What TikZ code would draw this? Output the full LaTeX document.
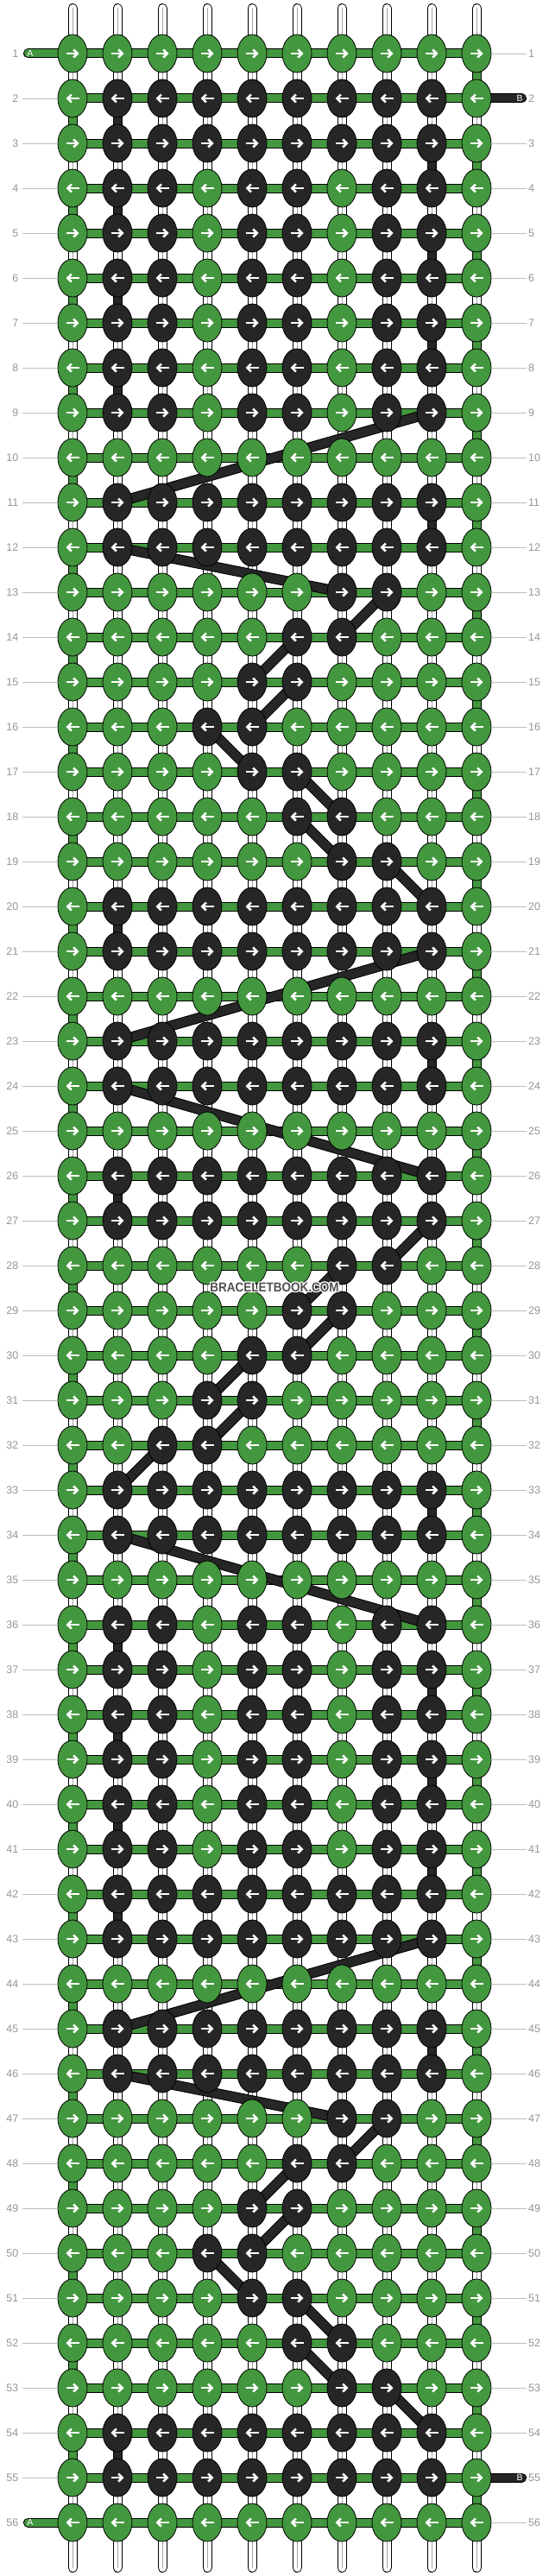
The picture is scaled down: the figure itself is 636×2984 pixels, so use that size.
\documentclass[tikz,border=0pt]{standalone}
\usepackage{fontspec}
\setmainfont{Liberation Sans}
\usepackage{xcolor}
\usepackage{graphicx}
\usetikzlibrary{shapes.geometric,arrows.meta}

\definecolor{knotgreen}{RGB}{67,151,62}
\definecolor{knotdark}{RGB}{38,38,38}
\definecolor{numgray}{RGB}{150,150,150}
\definecolor{rulegray}{RGB}{190,190,190}
\definecolor{markgray}{RGB}{80,80,80}

\tikzset{
  knotg/.style={ellipse, draw=black, line width=0.8pt, fill=knotgreen,
    minimum width=34pt, minimum height=44pt, inner sep=0pt},
  knotd/.style={knotg, fill=knotdark},
  knotarrow/.style={white, line width=2.6pt, -{Straight Barb[length=4.5pt,width=9pt]}},
  basestring/.style={line width=1pt, double=white, double distance=9pt, line cap=round},
  basecore/.style={draw=black!35, line width=0.6pt},
  rowbar/.style={line width=1pt, double=knotgreen, double distance=9pt},
  turnA/.style={rowbar},
  turnB/.style={line width=1pt, double=knotdark, double distance=9pt},
  floatB/.style={line width=1pt, double=knotdark, double distance=10pt},
  tailtag/.style={text=white, inner sep=0pt, font=\fontsize{10.5}{10.5}\selectfont},
  rowlabel/.style={text=numgray, inner sep=0pt, font=\fontsize{12.5}{12.5}\selectfont},
  labelline/.style={draw=rulegray, line width=0.9pt}
}

\begin{document}
\begin{tikzpicture}[x=1pt,y=-1pt]
\fill[white] (0,0) rectangle (636,2984);
\useasboundingbox (0,0) rectangle (636,2984);

% grid of knot positions
\foreach \r in {1,...,56}
  \foreach \c in {1,...,10}
    \coordinate (p-\r-\c) at ({84+52*(\c-1)},{62+52*(\r-1)});

% base strings
\foreach \c in {1,...,10} {
  \coordinate (top-\c) at ({84+52*(\c-1)},9.5);
  \coordinate (bot-\c) at ({84+52*(\c-1)},2974.5);
  \draw[basestring] (top-\c) -- (bot-\c);
  \draw[basecore] (top-\c) -- (bot-\c);
}

% row strings
\foreach \r in {1,...,56}
  \draw[rowbar] (p-\r-1) -- (p-\r-10);

% loose ends A and B
\coordinate (endA-1) at (32.5,62);
\coordinate (endA-56) at (32.5,2922);
\coordinate (endB-2) at (604.5,114);
\coordinate (endB-55) at (604.5,2870);
\draw[rowbar, line cap=round] (endA-1) -- (p-1-1);
\draw[rowbar, line cap=round] (endA-56) -- (p-56-1);
\draw[turnB, line cap=round] (endB-2) -- (p-2-10);
\draw[turnB, line cap=round] (endB-55) -- (p-55-10);
\node[tailtag] (tagA-1) at (35,62) {A};
\node[tailtag] (tagA-56) at (35,2922) {A};
\node[tailtag] (tagB-2) at (602,114) {B};
\node[tailtag] (tagB-55) at (602,2870) {B};

% turns at the edges
\foreach \r in {2,4,...,54} {
  \pgfmathtruncatemacro\s{\r+1}
  \draw[turnA] (p-\r-1) -- (p-\s-1);
}
\foreach \r in {1,3,...,55} {
  \pgfmathtruncatemacro\s{\r+1}
  \draw[turnA] (p-\r-10) -- (p-\s-10);
}
\foreach \r in {2,4,6,8,20,26,36,38,40,42,54} {
  \pgfmathtruncatemacro\s{\r+1}
  \draw[turnB] (p-\r-2) -- (p-\s-2);
}
\foreach \r in {3,5,7,11,23,33,37,39,41,45} {
  \pgfmathtruncatemacro\s{\r+1}
  \draw[turnB] (p-\r-9) -- (p-\s-9);
}

% B string floating between knots
\foreach \a/\b/\u/\v in {9/9/11/2, 12/2/13/7, 13/8/14/7, 14/6/15/5, 15/6/16/5,
    16/4/17/5, 17/6/18/7, 18/6/19/7, 19/8/20/9, 21/9/23/2, 24/2/26/9,
    27/9/28/8, 28/7/29/6, 29/7/30/6, 30/5/31/4, 31/5/32/4, 32/3/33/2,
    34/2/36/9, 43/9/45/2, 46/2/47/7, 47/8/48/7, 48/6/49/5, 49/6/50/5,
    50/4/51/5, 51/6/52/7, 52/6/53/7, 53/8/54/9}
  \draw[floatB] (p-\a-\b) -- (p-\u-\v);

% knots
\foreach \r/\pat in {
   1/{g,g,g,g,g,g,g,g,g,g},  2/{g,d,d,d,d,d,d,d,d,g},  3/{g,d,d,d,d,d,d,d,d,g},
   4/{g,d,d,g,d,d,g,d,d,g},  5/{g,d,d,g,d,d,g,d,d,g},  6/{g,d,d,g,d,d,g,d,d,g},
   7/{g,d,d,g,d,d,g,d,d,g},  8/{g,d,d,g,d,d,g,d,d,g},  9/{g,d,d,g,d,d,g,d,d,g},
  10/{g,g,g,g,g,g,g,g,g,g}, 11/{g,d,d,d,d,d,d,d,d,g}, 12/{g,d,d,d,d,d,d,d,d,g},
  13/{g,g,g,g,g,g,d,d,g,g}, 14/{g,g,g,g,g,d,d,g,g,g}, 15/{g,g,g,g,d,d,g,g,g,g},
  16/{g,g,g,d,d,g,g,g,g,g}, 17/{g,g,g,g,d,d,g,g,g,g}, 18/{g,g,g,g,g,d,d,g,g,g},
  19/{g,g,g,g,g,g,d,d,g,g}, 20/{g,d,d,d,d,d,d,d,d,g}, 21/{g,d,d,d,d,d,d,d,d,g},
  22/{g,g,g,g,g,g,g,g,g,g}, 23/{g,d,d,d,d,d,d,d,d,g}, 24/{g,d,d,d,d,d,d,d,d,g},
  25/{g,g,g,g,g,g,g,g,g,g}, 26/{g,d,d,d,d,d,d,d,d,g}, 27/{g,d,d,d,d,d,d,d,d,g},
  28/{g,g,g,g,g,g,d,d,g,g}, 29/{g,g,g,g,g,d,d,g,g,g}, 30/{g,g,g,g,d,d,g,g,g,g},
  31/{g,g,g,d,d,g,g,g,g,g}, 32/{g,g,d,d,g,g,g,g,g,g}, 33/{g,d,d,d,d,d,d,d,d,g},
  34/{g,d,d,d,d,d,d,d,d,g}, 35/{g,g,g,g,g,g,g,g,g,g}, 36/{g,d,d,g,d,d,g,d,d,g},
  37/{g,d,d,g,d,d,g,d,d,g}, 38/{g,d,d,g,d,d,g,d,d,g}, 39/{g,d,d,g,d,d,g,d,d,g},
  40/{g,d,d,g,d,d,g,d,d,g}, 41/{g,d,d,g,d,d,g,d,d,g}, 42/{g,d,d,d,d,d,d,d,d,g},
  43/{g,d,d,d,d,d,d,d,d,g}, 44/{g,g,g,g,g,g,g,g,g,g}, 45/{g,d,d,d,d,d,d,d,d,g},
  46/{g,d,d,d,d,d,d,d,d,g}, 47/{g,g,g,g,g,g,d,d,g,g}, 48/{g,g,g,g,g,d,d,g,g,g},
  49/{g,g,g,g,d,d,g,g,g,g}, 50/{g,g,g,d,d,g,g,g,g,g}, 51/{g,g,g,g,d,d,g,g,g,g},
  52/{g,g,g,g,g,d,d,g,g,g}, 53/{g,g,g,g,g,g,d,d,g,g}, 54/{g,d,d,d,d,d,d,d,d,g},
  55/{g,d,d,d,d,d,d,d,d,g}, 56/{g,g,g,g,g,g,g,g,g,g}}
  \foreach \k [count=\c] in \pat {
    \node[knot\k] (k-\r-\c) at (p-\r-\c) {};
    \ifodd\r
      \draw[knotarrow] ([xshift=-7.5pt]k-\r-\c.center) -- ([xshift=7.5pt]k-\r-\c.center);
    \else
      \draw[knotarrow] ([xshift=7.5pt]k-\r-\c.center) -- ([xshift=-7.5pt]k-\r-\c.center);
    \fi
  };

% row numbers
\foreach \r in {1,...,56} {
  \node[rowlabel, anchor=east] (numL-\r) at (21.5,{62+52*(\r-1)}) {\r};
  \node[rowlabel, anchor=west] (numR-\r) at (612,{62+52*(\r-1)}) {\r};
  \ifnum\r=1 \else\ifnum\r=56 \else
    \draw[labelline, shorten <=4.5pt] (numL-\r) -- (k-\r-1);
  \fi\fi
  \ifnum\r=2 \else\ifnum\r=55 \else
    \draw[labelline, shorten >=2pt] (k-\r-10) -- (numR-\r);
  \fi\fi
}

% watermark
\foreach \dx/\dy in {-1.3/0, 1.3/0, 0/-1.3, 0/1.3, -1/-1, 1/1, -1/1, 1/-1}
  \node[text=white, font=\bfseries\fontsize{15}{15}\selectfont]
    at ({318+\dx},{1491.5+\dy}) {\scalebox{0.9}[1]{BRACELETBOOK.COM}};
\node[text=markgray, font=\bfseries\fontsize{15}{15}\selectfont]
  (mark) at (318,1491.5) {\scalebox{0.9}[1]{BRACELETBOOK.COM}};
\end{tikzpicture}
\end{document}
